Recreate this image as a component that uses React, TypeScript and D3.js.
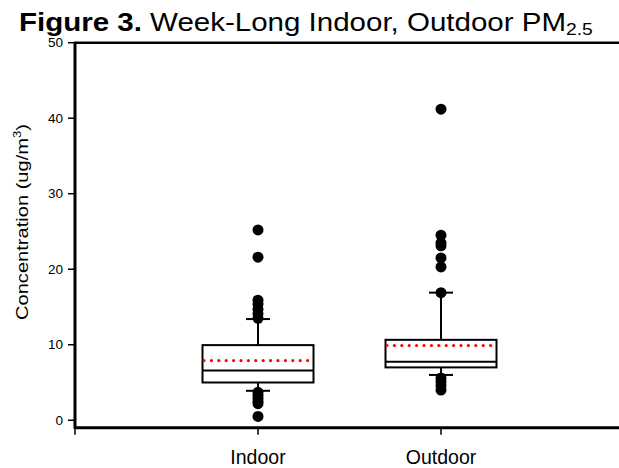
import * as d3 from 'd3'

// box stats (ug/m3)
const categories = ['Indoor', 'Outdoor']
const q1 = [5.0, 7.0]
const median = [6.6, 7.75]
const q3 = [9.95, 10.65]
const whiskerLow = [3.9, 6.0]
const whiskerHigh = [13.4, 16.9]
const means = [7.9, 9.9]
const outliersIndoor = [25.2, 21.6, 15.9, 15.4, 14.7, 14.1, 13.5, 3.7, 3.3, 2.9, 2.5, 2.2, 0.5]
const outliersOutdoor = [41.2, 24.5, 23.5, 23.1, 21.5, 20.3, 16.9, 5.6, 5.1, 4.6, 4.0]
const outliers = [outliersIndoor, outliersOutdoor]
const yTicks = [0, 10, 20, 30, 40, 50]

export default function App() {
  const W = 619
  const H = 468
  const x = d3.scaleLinear().domain([0, 3]).range([75, 624])
  const y = d3.scaleLinear().domain([-1, 50]).range([427.8, 42.7])
  const boxW = 111
  const capW = 24
  const font = 'Arial, "Liberation Sans", sans-serif'

  return (
    <svg
      width={W}
      height={H}
      style={{ position: 'absolute', left: 0, top: 0, background: '#fff' }}
      fontFamily={font}
    >
      {/* title */}
      <g transform="translate(19,31) scale(1.135,1)">
        <text fontSize={26} fill="#000">
          <tspan fontWeight="bold">Figure 3.</tspan>
          <tspan> Week-Long Indoor, Outdoor PM</tspan>
          <tspan fontSize={17} dy={4}>2.5</tspan>
        </text>
      </g>

      {/* frame */}
      <line x1={x(0)} x2={W + 10} y1={y(50)} y2={y(50)} stroke="#000" strokeWidth={2.5} />
      <line x1={x(0)} x2={W + 10} y1={y(-1)} y2={y(-1)} stroke="#000" strokeWidth={3} />
      <line x1={x(0)} x2={x(0)} y1={y(50) - 1} y2={y(-1) + 1} stroke="#000" strokeWidth={3} />

      {/* y ticks */}
      {yTicks.map((t) => (
        <g key={t}>
          <line x1={x(0) - 7} x2={x(0)} y1={y(t)} y2={y(t)} stroke="#000" strokeWidth={1.5} />
          <text x={63} y={y(t)} dy="0.35em" textAnchor="end" fontSize={13.5}>
            {t}
          </text>
        </g>
      ))}

      {/* x ticks */}
      {[0, 1, 2].map((i) => (
        <line key={i} x1={x(i)} x2={x(i)} y1={y(-1)} y2={y(-1) + 7} stroke="#000" strokeWidth={1.5} />
      ))}
      {categories.map((c, i) => (
        <text key={c} x={x(i + 1)} y={464} textAnchor="middle" fontSize={19.5}>
          {c}
        </text>
      ))}

      {/* y label */}
      <text
        transform="translate(28,222) rotate(-90)"
        textAnchor="middle"
        fontSize={17}
        textLength={196}
        lengthAdjust="spacingAndGlyphs"
      >
        Concentration (ug/m
        <tspan fontSize={11} dy={-7}>3</tspan>
        <tspan dy={7}>)</tspan>
      </text>

      {/* boxes */}
      {categories.map((c, i) => {
        const cx = x(i + 1)
        return (
          <g key={c} stroke="#000" fill="none">
            <line x1={cx} x2={cx} y1={y(q3[i])} y2={y(whiskerHigh[i])} strokeWidth={2} />
            <line x1={cx} x2={cx} y1={y(q1[i])} y2={y(whiskerLow[i])} strokeWidth={2} />
            <line x1={cx - capW / 2} x2={cx + capW / 2} y1={y(whiskerHigh[i])} y2={y(whiskerHigh[i])} strokeWidth={2} />
            <line x1={cx - capW / 2} x2={cx + capW / 2} y1={y(whiskerLow[i])} y2={y(whiskerLow[i])} strokeWidth={2} />
            <rect x={cx - boxW / 2} y={y(q3[i])} width={boxW} height={y(q1[i]) - y(q3[i])} strokeWidth={2} fill="#fff" />
            <line x1={cx - boxW / 2} x2={cx + boxW / 2} y1={y(median[i])} y2={y(median[i])} strokeWidth={2} />
            <line
              x1={cx - boxW / 2 + 1.5}
              x2={cx + boxW / 2}
              y1={y(means[i])}
              y2={y(means[i])}
              stroke="#ff0000"
              strokeWidth={3.2}
              strokeLinecap="round"
              strokeDasharray="0,7.4"
            />
            {outliers[i].map((v, j) => (
              <circle key={j} cx={cx} cy={y(v)} r={5.5} fill="#000" stroke="none" />
            ))}
          </g>
        )
      })}
    </svg>
  )
}
